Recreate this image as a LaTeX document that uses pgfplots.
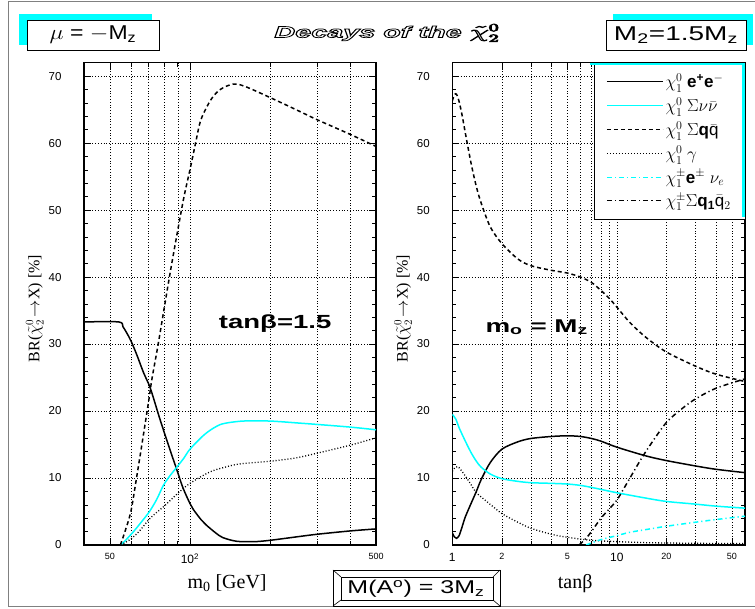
\documentclass[border=0pt]{standalone}
\usepackage{fontspec}
\setmainfont{Liberation Sans}
\newfontfamily\serifr{Liberation Serif}
\usepackage{graphicx}
\usepackage{pgfplots}
\pgfplotsset{compat=1.18}
\definecolor{cyn}{RGB}{0,255,255}

\pgfplotsset{
 brstyle/.style={
  scale only axis, width=292pt, height=482.3pt,
  ymin=0, ymax=72, ytick={0,10,...,70}, minor y tick num=4,
  tick align=inside, major tick length=7pt, minor tick length=4pt,
  every tick/.style={black, line width=0.6pt},
  xmajorgrids, xminorgrids, ymajorgrids,
  grid style={black, line width=0.5pt, dash pattern=on 0.8pt off 2pt},
  axis line style={line width=1.2pt},
  /pgf/number format/assume math mode=true,
  yticklabel style={font=\fontsize{11.5}{12}\selectfont, xshift=-19pt},
  xticklabel style={font=\fontsize{9}{10}\selectfont, yshift=-5pt},
  ylabel={\serifr BR($\tilde{\chi}^{0}_{2}\!\rightarrow$X) [\%]},
  ylabel style={font=\fontsize{16}{16}\selectfont, at={(axis description cs:-0.168,0.49)}, anchor=center},
  xlabel style={font=\fontsize{20}{20}\selectfont, anchor=center},
 },
 lsolid/.style={black, line width=1.5pt, smooth},
 lcyan/.style={cyn, line width=1.5pt, smooth},
 ldash/.style={black, line width=1.5pt, smooth, dash pattern=on 4pt off 3pt},
 ldot/.style={black, line width=1.3pt, smooth, dash pattern=on 1pt off 2pt},
 lcdd/.style={cyn, line width=1.5pt, smooth, dash pattern=on 5pt off 3pt on 1.2pt off 3pt},
 lbdd/.style={black, line width=1.5pt, smooth, dash pattern=on 5pt off 3pt on 1.2pt off 3pt},
}

\begin{document}
\begin{tikzpicture}[x=1pt,y=1pt]
\useasboundingbox (0,0) rectangle (755,609);

% ---------------- left panel ----------------
\begin{axis}[brstyle, at={(84pt,64pt)}, anchor=south west,
  xmode=log, xmin=40, xmax=500,
  xtick={50,100,500},
  xticklabels={50,{\fontsize{12}{12}\selectfont 10\textsuperscript{2}},500},
  minor xtick={60,70,80,90,200,300,400},
  xlabel={\serifr m\textsubscript{0} [GeV]},
  xlabel style={at={(axis description cs:0.49,-0.079)}},
]
\addplot[lsolid] coordinates {(40,33.3)(54,33.3)(56,32.6)(58,31.6)(60,30.5)(63,28.5)(67,25.7)(71,23.4)(77,18.9)(84,14.3)(89,11.4)(94,8.6)(100,6.2)(103,5.3)(110,3.8)(115,3.0)(125,1.8)(133,1.1)(150,0.55)(175,0.5)(200,0.7)(250,1.2)(300,1.6)(400,2.1)(500,2.4)};
\addplot[lcyan] coordinates {(54.8,0)(57,0.6)(61.4,2)(65,3.2)(70.5,5)(75,6.8)(79.5,8.9)(84,10.3)(89.2,11.6)(95,13)(100,14.3)(112,16.3)(122,17.4)(133,18.1)(158,18.5)(200,18.5)(257,18.2)(300,18)(400,17.6)(500,17.2)};
\addplot[ldash] coordinates {(54.8,0)(57,2)(60,5)(63,10)(66,15)(70,21.5)(72,24.8)(76,30)(81,36.6)(85,41.5)(90,47)(95,52)(100,56)(105,60)(110,63.5)(120,66.5)(130,68)(145,68.8)(160,68.5)(200,66.8)(250,65)(300,63.5)(400,61.3)(500,59.5)};
\addplot[ldot] coordinates {(55,0)(60,0.9)(65,2.2)(70.9,4)(80,5.8)(90,7.7)(100,9.2)(118.7,10.9)(135,11.6)(153.7,12.1)(200,12.5)(250,13)(300,13.7)(400,14.9)(500,16)};
\node at (axis cs:209,33.1) {\scalebox{1.45}[1]{\fontsize{19}{19}\selectfont\bfseries tanβ=1.5}};
\end{axis}

% ---------------- right panel ----------------
\begin{axis}[brstyle, at={(452.3pt,64pt)}, anchor=south west,
  width=292.7pt,
  xmode=log, xmin=1, xmax=60,
  xtick={1,2,5,10,20,50},
  xticklabels={{\fontsize{12}{12}\selectfont 1},2,5,{\fontsize{12}{12}\selectfont 10},20,50},
  minor xtick={3,4,6,7,8,9,30,40},
  xlabel={\serifr tanβ},
  xlabel style={at={(axis description cs:0.42,-0.079)}},
  legend style={at={(1,1)}, anchor=north east, draw=black,
    font=\fontsize{17}{18}\selectfont\bfseries, inner xsep=12pt, inner ysep=9pt,
    row sep=4.5pt, cells={anchor=west}},
  legend image code/.code={\draw[#1] (0pt,0pt) -- (56pt,0pt);},
  /tikz/every even column/.append style={column sep=7pt},
]
\addplot[lsolid] coordinates {(1,1.8)(1.03,1.2)(1.06,1.0)(1.1,1.4)(1.15,2.8)(1.2,4.2)(1.3,6.2)(1.4,8)(1.5,9.8)(1.7,12.3)(2,14.3)(2.5,15.4)(3,15.9)(4,16.2)(5,16.3)(6,16.2)(7,15.9)(8,15.5)(10,14.6)(15,13.3)(20,12.6)(30,11.8)(40,11.3)(60,10.8)};
\addlegendentry{$\chi^{0}_{1}$ e\textsuperscript{+}e\textsuperscript{$-$}}
\addplot[lcyan] coordinates {(1,19.5)(1.05,18.8)(1.1,17.5)(1.2,15.5)(1.3,13.8)(1.4,12.5)(1.5,11.6)(1.7,10.6)(2,9.9)(2.5,9.5)(3,9.3)(4,9.2)(5,9.1)(6,8.9)(7,8.6)(8,8.3)(10,7.8)(15,7)(20,6.5)(30,6.1)(40,5.8)(60,5.5)};
\addlegendentry{$\chi^{0}_{1}$ $\Sigma\nu\bar{\nu}$}
\addplot[ldash] coordinates {(1,66.3)(1.03,67.2)(1.06,67.3)(1.1,66.2)(1.15,64)(1.2,61.5)(1.3,57)(1.4,53.5)(1.5,51)(1.7,47.5)(2,45)(2.5,42.7)(3,41.7)(4,41)(5,40.6)(6,40)(7,39.2)(8,38)(9,36.8)(10,35.5)(12,33.2)(15,31)(20,28.8)(30,26.7)(40,25.5)(60,24.4)};
\addlegendentry{$\chi^{0}_{1}$ $\Sigma$q$\bar{\mathrm{q}}$}
\addplot[ldot] coordinates {(1,11)(1.04,11.6)(1.08,11.7)(1.12,11.3)(1.2,10.3)(1.3,9)(1.4,7.8)(1.6,6.6)(2,4.7)(2.5,3.4)(3,2.5)(4,1.6)(5,1.15)(7,0.7)(10,0.5)(15,0.35)(20,0.3)(30,0.25)(60,0.2)};
\addlegendentry{$\chi^{0}_{1}$ $\gamma$}
\addplot[lcdd] coordinates {(6.5,0)(7,0.3)(8,0.8)(10,1.4)(12,1.9)(15,2.3)(20,2.8)(30,3.4)(40,3.8)(60,4.3)};
\addlegendentry{$\chi^{\pm}_{1}$e$^{\pm}$ $\nu_{e}$}
\addplot[lbdd] coordinates {(5.9,0)(6.5,1)(7,2)(8,4)(9,5.4)(10,6.7)(11,8.4)(12,10)(14,12.8)(16,15)(20,18.3)(25,20.4)(30,21.8)(40,23.4)(60,24.8)};
\addlegendentry{$\chi^{\pm}_{1}$$\Sigma$q\textsubscript{1}$\bar{\mathrm{q}}_{2}$}
\node at (axis cs:3.26,32.5) {\scalebox{1.5}[1]{\fontsize{18.5}{19}\selectfont\bfseries m\textsubscript{o} = M\textsubscript{z}}};
\end{axis}

% cyan trim of the legend box
\draw[cyn, line width=2.5pt] (590,545.2) -- (743.3,545.2) -- (743.3,392);

% outer frame
\draw[gray, line width=1pt] (8,2) -- (8,607) -- (755,607);
\draw[gray, line width=1pt] (8,2) -- (755,2);

% top-left box
\fill[cyn] (19,564) rectangle (152,595);
\draw[black, fill=white, line width=0.8pt] (27,559) rectangle (159,589);
\node at (93,574) {\scalebox{1.15}[1]{\fontsize{20}{20}\selectfont $\mu$ = $-$M\textsubscript{z}}};

% top-right box
\fill[cyn] (613,564) rectangle (753,595);
\draw[black, fill=white, line width=0.8pt] (606,559) rectangle (746,589);
\node at (676,574) {\scalebox{1.4}[1]{\fontsize{20}{20}\selectfont M\textsubscript{2}=1.5M\textsubscript{z}}};

% title (outlined)
\node at (387,576) {\special{pdf:literal direct q 1 Tr 0.7 w}\scalebox{1.8}[1]{\fontsize{16}{16}\selectfont\bfseries\itshape Decays of the $\tilde{\chi}^{0}_{2}$}\special{pdf:literal direct Q}};

% bottom box
\draw[black, fill=white, line width=0.8pt] (333,3) rectangle (500,39);
\draw[black, line width=0.8pt] (341,9) rectangle (493,32);
\draw[black, line width=0.6pt] (333,3) -- (341,9) (500,3) -- (493,9) (333,39) -- (341,32) (500,39) -- (493,32);
\node at (416,20) {\scalebox{1.35}[1]{\fontsize{18.5}{19}\selectfont M(A\textsuperscript{o}) = 3M\textsubscript{z}}};
\end{tikzpicture}
\end{document}
